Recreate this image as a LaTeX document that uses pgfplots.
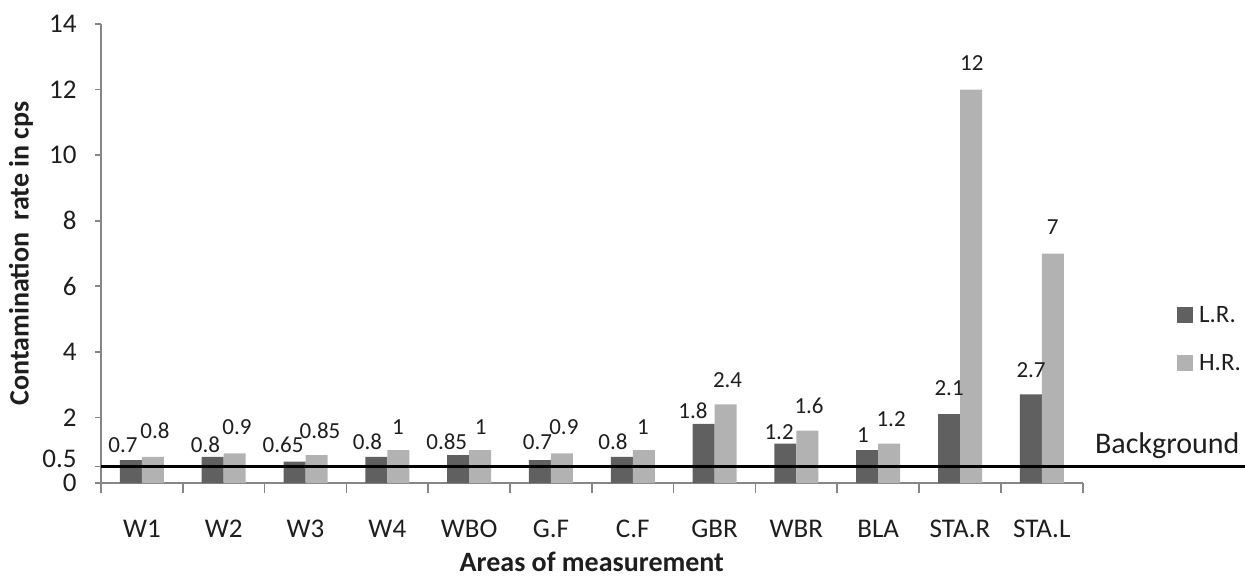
\documentclass[border=0pt]{standalone}
\usepackage{fontspec}
\setmainfont{Carlito}
\usepackage{pgfplots}
\usepackage{pgfplotstable}
\pgfplotsset{compat=1.18}
\definecolor{barDark}{RGB}{96,96,96}
\definecolor{barLight}{RGB}{178,178,178}
\definecolor{axisGray}{RGB}{134,134,134}
\definecolor{txt}{RGB}{30,30,30}

\pgfplotstableread{
x y
0 0.7
1 0.8
2 0.65
3 0.8
4 0.85
5 0.7
6 0.8
7 1.8
8 1.2
9 1
10 2.1
11 2.7
}\LRdata
\pgfplotstableread{
x y
0 0.8
1 0.9
2 0.85
3 1
4 1
5 0.9
6 1
7 2.4
8 1.6
9 1.2
10 12
11 7
}\HRdata
\pgfplotstableread{
x y lab
-0.231 1.16 0.7
0.778 1.16 0.8
1.725 1.16 0.65
2.758 1.26 0.8
3.726 1.25 0.85
4.836 1.25 0.7
5.759 1.25 0.8
6.737 2.20 1.8
7.789 1.56 1.2
8.815 1.46 1
9.867 2.90 2.1
10.869 3.45 2.7
}\LRlab
\pgfplotstableread{
x y lab
0.160 1.59 0.8
1.163 1.69 0.9
2.177 1.59 0.85
3.131 1.72 1
4.142 1.71 1
5.158 1.69 0.9
6.126 1.71 1
7.159 3.14 2.4
8.155 2.35 1.6
9.158 1.95 1.2
10.144 12.81 12
11.134 7.79 7
}\HRlab

\begin{document}
\begin{tikzpicture}
\useasboundingbox (-50.5pt,-47.5pt) rectangle (572pt,241.5pt);
\begin{axis}[
  at={(0,0)}, anchor=south west,
  scale only axis,
  width=490.85pt, height=229.5pt,
  xmin=-0.5, xmax=11.5, ymin=0, ymax=14,
  clip=false,
  axis x line*=bottom, axis y line*=left,
  axis line style={axisGray, line width=0.8pt},
  xtick={0,...,11},
  xticklabels={W1,W2,W3,W4,WBO,G.F,C.F,GBR,WBR,BLA,STA.R,STA.L},
  minor xtick={-0.5,0.5,...,11.5},
  major x tick style={draw=none},
  minor x tick style={axisGray, line width=0.8pt},
  minor tick length=5pt,
  ytick={0,2,4,6,8,10,12,14},
  yticklabels={0,2,4,6,8,10,12,14},
  extra y ticks={0.5},
  extra y tick labels={0.5},
  extra y tick style={yticklabel style={yshift=4pt}},
  major y tick style={axisGray, line width=0.8pt},
  major tick length=3pt,
  tick align=outside,
  xticklabel style={font=\fontsize{13.5}{15}\selectfont, text=txt, anchor=center, inner sep=0pt, yshift=-20pt},
  yticklabel style={font=\fontsize{13.5}{15}\selectfont, text=txt, anchor=east, inner sep=0pt, xshift=-9pt},
  xlabel={Areas of measurement},
  ylabel={Contamination\ \ rate in cps},
  xlabel style={font=\fontsize{14}{16}\selectfont\bfseries, text=txt, at={(axis description cs:0.5,-0.172)}, anchor=center},
  ylabel style={font=\fontsize{14}{16}\selectfont\bfseries, text=txt, at={(axis description cs:-0.0815,0.5)}, anchor=center},
  legend style={draw=none, fill=none, at={(axis cs:12.654,5.37)}, anchor=north west,
    inner sep=0pt, outer sep=0pt, row sep=16pt, column sep=3pt,
    font=\fontsize{12.5}{14}\selectfont, text=txt,
    nodes={inner sep=0pt, text height=8pt, text depth=0pt}},
  legend cell align=left,
  legend image code/.code={\fill[#1] (0pt,-4pt) rectangle (8pt,4pt);},
]
\addplot[ybar, bar width=11pt, bar shift=-5.5pt, fill=barDark, draw=none] table[x=x,y=y] {\LRdata};
\addlegendentry{L.R.}
\addplot[ybar, bar width=11pt, bar shift=5.5pt, fill=barLight, draw=none] table[x=x,y=y] {\HRdata};
\addlegendentry{H.R.}
\addplot[black, line width=1.6pt, forget plot] coordinates {(-0.5,0.5) (13.6,0.5)};
\addplot[draw=none, forget plot, nodes near coords, point meta=explicit symbolic,
  nodes near coords style={anchor=center, inner sep=0pt, font=\fontsize{11.5}{13}\selectfont, text=txt}]
  table[x=x,y=y,meta=lab] {\LRlab};
\addplot[draw=none, forget plot, nodes near coords, point meta=explicit symbolic,
  nodes near coords style={anchor=center, inner sep=0pt, font=\fontsize{11.5}{13}\selectfont, text=txt}]
  table[x=x,y=y,meta=lab] {\HRlab};
\node[anchor=base east, inner sep=0pt, font=\fontsize{15}{17}\selectfont, text=txt] at (axis cs:13.42,0.915) {Background};
\end{axis}
\end{tikzpicture}
\end{document}
